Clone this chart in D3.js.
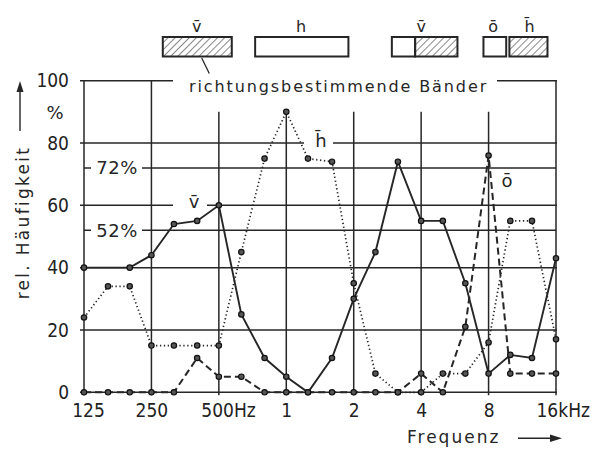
<!DOCTYPE html>
<html>
<head>
<meta charset="utf-8">
<script src="https://cdn.jsdelivr.net/npm/d3@7"></script>
<style>
    body { margin: 0; background: #fff; }
    svg { display: block; font-family: "DejaVu Sans", sans-serif; }
    .tick text { font-family: "DejaVu Sans Condensed", "Liberation Sans Narrow", "DejaVu Sans", sans-serif; font-size: 19px; fill: #222; }
</style>
</head>
<body>
<div id="chart"></div>
<script>
var svgWidth = 593;
var svgHeight = 449;

// third-octave frequencies (Hz)
var freqs = [125, 160, 200, 250, 315, 400, 500, 630, 800, 1000, 1250, 1600,
    2000, 2500, 3150, 4000, 5000, 6300, 8000, 10000, 12500, 16000];

// rel. frequency (%) of judgements: vorne (solid), hinten (dotted), oben (dashed)
var vorne = [40, null, 40, 44, 54, 55, 60, 25, 11, 5, 0, 11, 30, 45, 74, 55, 55, 35, 6, 12, 11, 43];
var hinten = [24, 34, 34, 15, 15, 15, 15, 45, 75, 90, 75, 74, 35, 6, 0, 0, 6, 6, 16, 55, 55, 17];
var oben = [0, 0, 0, 0, 0, 11, 5, 5, 0, 0, 0, 0, 0, 0, 0, 6, 0, 21, 76, 6, 6, 6];

var xTicks = [125, 250, 500, 1000, 2000, 4000, 8000, 16000];
var xTickLabels = ["125", "250", "500Hz", "1", "2", "4", "8", "16kHz"];
var yTicks = [0, 20, 40, 60, 80, 100];
var refLines = [72, 52];

// directional bands drawn above the chart
var bandStart = [281, 726, 2960, 3760, 7590, 9910];
var bandEnd = [571, 1894, 3760, 5810, 9590, 14660];
var bandHatched = [true, false, false, true, false, true];
var bandLabels = ["v\u0304", "h", "v\u0304", "\u014D", "h\u0304"];
var bandLabelFreqs = [398, 1165, 4000, 8380, 12200];

var svg = d3.select("#chart")
    .append("svg")
    .attr("width", svgWidth)
    .attr("height", svgHeight);

var ink = "#262626";

// hatch pattern
svg.append("defs").append("pattern")
    .attr("id", "hatch")
    .attr("patternUnits", "userSpaceOnUse")
    .attr("width", 5)
    .attr("height", 5)
    .attr("patternTransform", "rotate(45)")
    .append("line")
    .attr("x1", 0).attr("y1", 0)
    .attr("x2", 0).attr("y2", 5)
    .attr("stroke", ink)
    .attr("stroke-width", 1.1);

// scales
var xScale = d3.scaleLog().base(2)
    .domain([125, 16000])
    .range([84, 556]);
var yScale = d3.scaleLinear()
    .domain([0, 100])
    .range([392.3, 80.7]);

var grid = svg.append("g")
    .attr("stroke", ink)
    .attr("stroke-width", 1.5);

// horizontal grid
grid.selectAll(".hline")
    .data(yTicks)
    .enter()
    .append("line")
    .attr("x1", xScale(125) - 4)
    .attr("x2", xScale(16000) + 1)
    .attr("y1", d => yScale(d))
    .attr("y2", d => yScale(d));

grid.selectAll(".rline")
    .data(refLines)
    .enter()
    .append("line")
    .attr("x1", xScale(125))
    .attr("x2", xScale(16000))
    .attr("y1", d => yScale(d))
    .attr("y2", d => yScale(d));

// vertical grid: outer lines run up to 100, inner ones stop below the title
var fullTicks = [125, 250, 16000];
grid.selectAll(".vline")
    .data(xTicks)
    .enter()
    .append("line")
    .attr("x1", d => xScale(d))
    .attr("x2", d => xScale(d))
    .attr("y1", yScale(0) + 3)
    .attr("y2", d => fullTicks.indexOf(d) >= 0 ? yScale(100) : yScale(90));

// white knockouts behind labels that sit on grid lines
var knock = svg.append("g").attr("fill", "#fff");
knock.append("rect").attr("x", 173).attr("y", 72).attr("width", 324).attr("height", 16);
knock.append("rect").attr("x", 91).attr("y", yScale(72) - 9).attr("width", 51).attr("height", 18);
knock.append("rect").attr("x", 91).attr("y", yScale(52) - 9).attr("width", 51).attr("height", 18);
knock.append("rect").attr("x", 173).attr("y", yScale(60) - 10).attr("width", 34).attr("height", 16);
knock.append("rect").attr("x", 304).attr("y", yScale(80) - 12).attr("width", 29).attr("height", 18);

// axes (labels only)
var bottomAxis = d3.axisBottom(xScale)
    .tickValues(xTicks)
    .tickFormat((d, i) => xTickLabels[i])
    .tickSize(0)
    .tickPadding(11);
var xAxis = svg.append("g")
    .attr("transform", `translate(0,${yScale(0)})`)
    .call(bottomAxis);
xAxis.select(".domain").remove();
xAxis.selectAll(".tick text")
    .filter(d => d === 500 || d === 16000)
    .attr("text-anchor", "start")
    .attr("x", d => d === 500 ? -18 : -20);
xAxis.selectAll(".tick text").filter(d => d === 125).attr("x", 4);

var leftAxis = d3.axisLeft(yScale)
    .tickValues(yTicks)
    .tickSize(0)
    .tickPadding(15);
var yAxis = svg.append("g")
    .attr("transform", `translate(${xScale(125)},0)`)
    .call(leftAxis);
yAxis.select(".domain").remove();

svg.append("text")
    .attr("x", 55).attr("y", 119)
    .attr("text-anchor", "middle")
    .attr("font-size", 18)
    .attr("fill", ink)
    .text("%");

refLines.forEach(function (r) {
    svg.append("text")
        .attr("x", 117)
        .attr("y", yScale(r) + 6.5)
        .attr("text-anchor", "middle")
        .attr("font-size", 18)
        .attr("letter-spacing", 0.5)
        .attr("fill", ink)
        .text(r + "%");
});

// data lines
var series = [
    {vals: oben, dash: "7,4", width: 2},
    {vals: hinten, dash: "1.3,2.6", width: 1.7},
    {vals: vorne, dash: null, width: 1.9}
];

var lineGen = d3.line()
    .x(d => xScale(d.f))
    .y(d => yScale(d.v));

series.forEach(function (s) {
    var pts = freqs.map((f, i) => ({f: f, v: s.vals[i]})).filter(d => d.v !== null);
    svg.append("path")
        .datum(pts)
        .attr("d", lineGen)
        .attr("fill", "none")
        .attr("stroke", ink)
        .attr("stroke-width", s.width)
        .attr("stroke-dasharray", s.dash);
    svg.append("g")
        .selectAll("circle")
        .data(pts)
        .enter()
        .append("circle")
        .attr("cx", d => xScale(d.f))
        .attr("cy", d => yScale(d.v))
        .attr("r", 2.7)
        .attr("fill", "#555")
        .attr("stroke", "#111")
        .attr("stroke-width", 1.2);
});

// curve labels
var curveLabels = [
    {t: "v\u0304", x: 194, y: 208},
    {t: "h\u0304", x: 321, y: 146.5},
    {t: "\u014D", x: 507, y: 187}
];
svg.selectAll(".clabel")
    .data(curveLabels)
    .enter()
    .append("text")
    .attr("x", d => d.x)
    .attr("y", d => d.y)
    .attr("text-anchor", "middle")
    .attr("font-size", 18)
    .attr("fill", ink)
    .text(d => d.t);

// title inside top frame
svg.append("text")
    .attr("x", 189).attr("y", 92)
    .attr("font-size", 16)
    .attr("letter-spacing", 1.9)
    .attr("fill", ink)
    .text("richtungsbestimmende Bänder");

// band boxes
svg.append("g")
    .selectAll("rect")
    .data(bandStart)
    .enter()
    .append("rect")
    .attr("x", d => xScale(d))
    .attr("y", 37)
    .attr("width", (d, i) => xScale(bandEnd[i]) - xScale(d))
    .attr("height", 19.5)
    .attr("fill", (d, i) => bandHatched[i] ? "url(#hatch)" : "#fff")
    .attr("stroke", ink)
    .attr("stroke-width", 2);

svg.append("g")
    .selectAll("text")
    .data(bandLabels)
    .enter()
    .append("text")
    .attr("x", (d, i) => xScale(bandLabelFreqs[i]))
    .attr("y", 31.5)
    .attr("text-anchor", "middle")
    .attr("font-size", 16)
    .attr("fill", ink)
    .text(d => d);

svg.append("line")
    .attr("x1", 201.7).attr("y1", 58)
    .attr("x2", 209.3).attr("y2", 73.5)
    .attr("stroke", ink)
    .attr("stroke-width", 1.3);

// axis titles with arrows
svg.append("text")
    .attr("transform", "translate(28.5,222.5) rotate(-90)")
    .attr("text-anchor", "middle")
    .attr("font-size", 17)
    .attr("letter-spacing", 2.3)
    .attr("fill", ink)
    .text("rel. Häufigkeit");
svg.append("line")
    .attr("x1", 20).attr("y1", 131)
    .attr("x2", 20).attr("y2", 88)
    .attr("stroke", ink).attr("stroke-width", 1.4);
svg.append("path")
    .attr("d", "M20,81 L16.5,92 L23.5,92 Z")
    .attr("fill", ink);

svg.append("text")
    .attr("x", 407).attr("y", 443)
    .attr("font-size", 17)
    .attr("letter-spacing", 2)
    .attr("fill", ink)
    .text("Frequenz");
svg.append("line")
    .attr("x1", 518).attr("y1", 438.3)
    .attr("x2", 553).attr("y2", 438.3)
    .attr("stroke", ink).attr("stroke-width", 1.4);
svg.append("path")
    .attr("d", "M562,438.3 L550,434.5 L550,442 Z")
    .attr("fill", ink);
</script>
</body>
</html>
